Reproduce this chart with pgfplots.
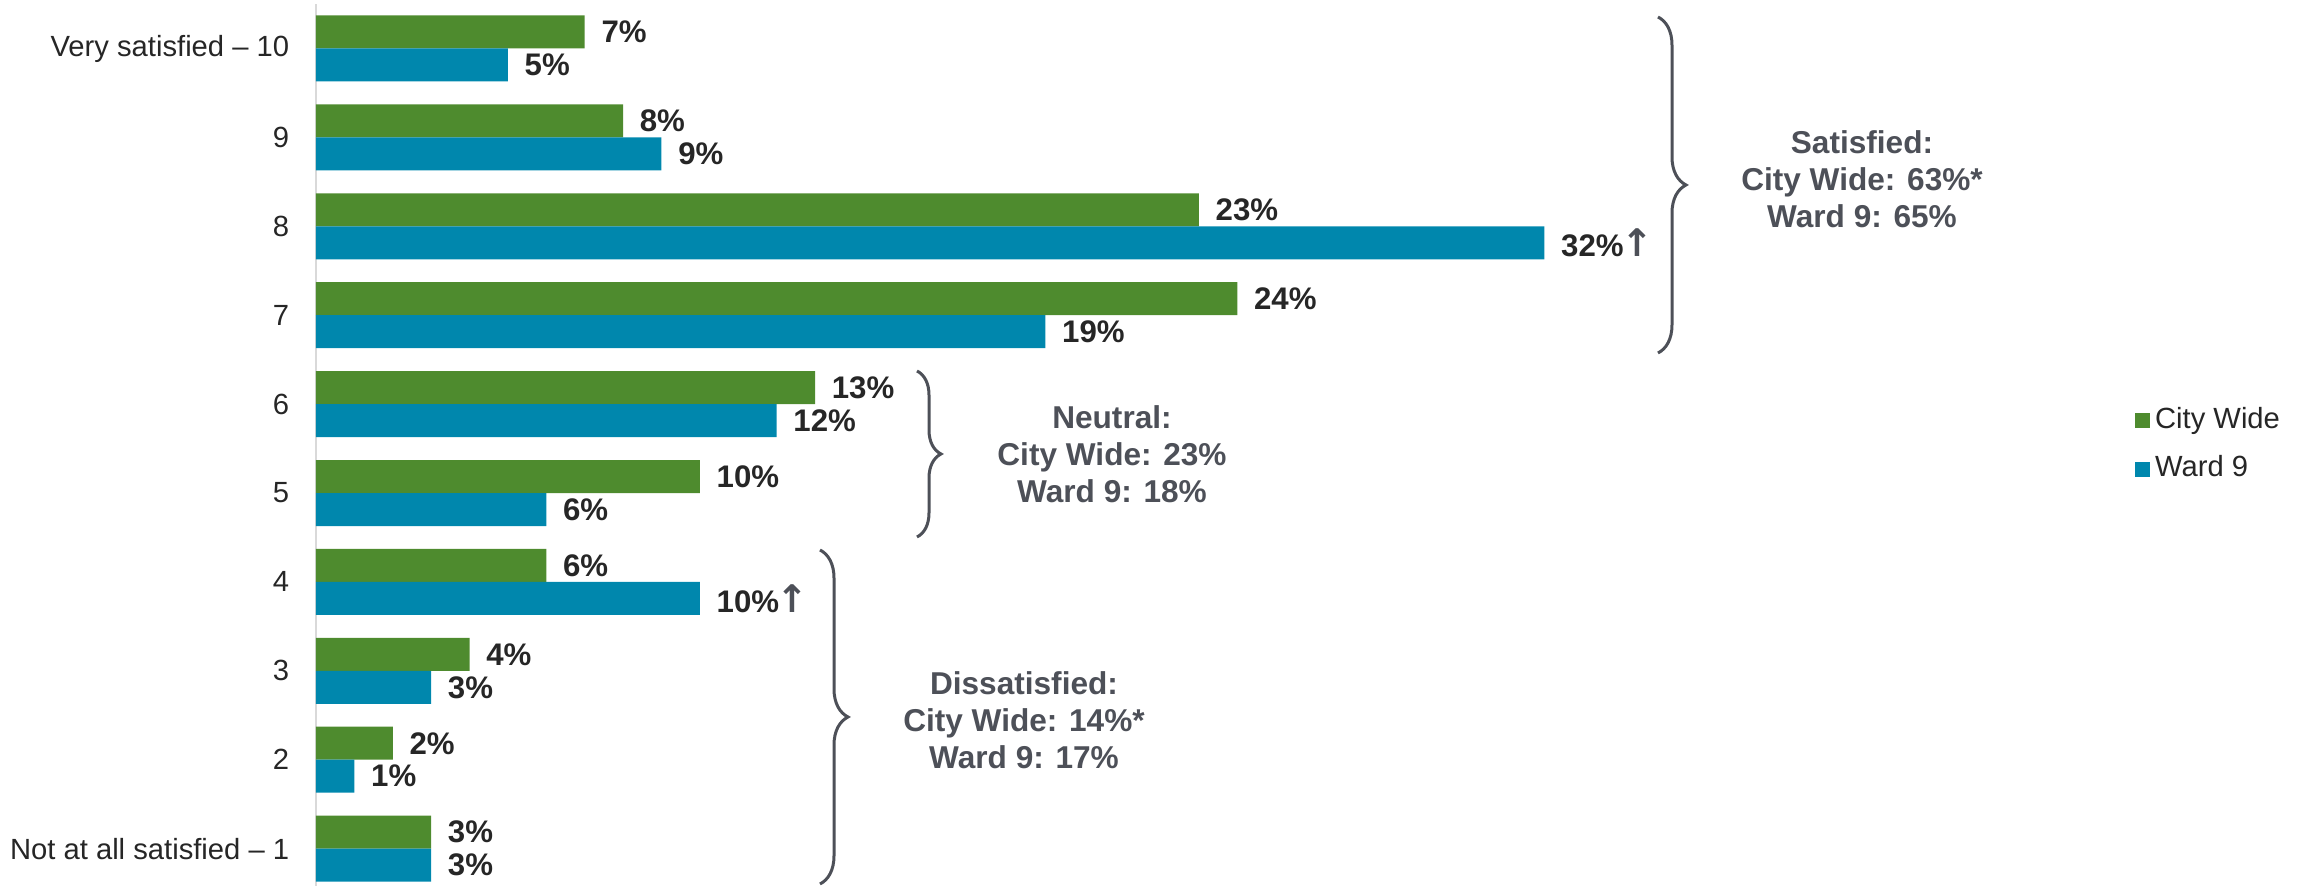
\documentclass[border=0pt]{standalone}
\usepackage{pgfplots}
\pgfplotsset{compat=1.18}
\usepackage{fontspec}
\setmainfont{Liberation Sans}
\newfontfamily\arrowfont{DejaVu Sans}
\usetikzlibrary{decorations.pathreplacing}
\definecolor{cwgreen}{HTML}{4E8B2E}
\definecolor{wblue}{HTML}{0087AD}
\definecolor{txt}{HTML}{262626}
\definecolor{annot}{HTML}{4D5058}
\newcommand{\upar}{\kern-0.6pt{\arrowfont\bfseries\fontsize{9.5}{9.5}\selectfont\color{annot}↑}}
\begin{document}
\begin{tikzpicture}
\begin{axis}[
  at={(0,0)}, anchor=south west,
  scale only axis, width=497.5pt, height=220.5pt,
  xbar, bar width=8.25pt,
  xmin=0, xmax=51.84, ymin=-0.5, ymax=9.42, y dir=reverse,
  axis x line=none, axis y line*=left,
  y axis line style={draw=black!15, line width=0.5pt},
  ytick={0,...,9},
  yticklabels={Very satisfied – 10, 9, 8, 7, 6, 5, 4, 3, 2, Not at all satisfied – 1},
  major tick length=0pt,
  yticklabel style={font=\fontsize{7.3}{8.8}\selectfont, text=txt, inner xsep=0pt, xshift=-6.5pt},
  point meta=explicit symbolic,
  nodes near coords,
  every node near coord/.append style={font=\fontsize{7.8}{9}\selectfont\bfseries, text=txt, anchor=west, inner xsep=4pt, inner ysep=0pt},
  legend style={draw=none, fill=none, at={(0.9138,0.5)}, anchor=west, inner sep=0pt,
    font=\fontsize{7.3}{8.8}\selectfont, text=txt, row sep=5.4pt,
    nodes={inner xsep=1.2pt, inner ysep=0pt}},
  legend cell align=left,
  legend image code/.code={\fill[#1] (0pt,-1.875pt) rectangle (3.75pt,1.875pt);},
  clip=false,
]
\addplot[fill=cwgreen, draw=none, bar shift=4.125pt] coordinates {
  (7,0) [7\%] (8,1) [8\%] (23,2) [23\%] (24,3) [24\%] (13,4) [13\%]
  (10,5) [10\%] (6,6) [6\%] (4,7) [4\%] (2,8) [2\%] (3,9) [3\%]
};
\addlegendentry{City Wide}
\addplot[fill=wblue, draw=none, bar shift=-4.125pt] coordinates {
  (5,0) [5\%] (9,1) [9\%] (32,2) [32\%\upar] (19,3) [19\%] (12,4) [12\%]
  (6,5) [6\%] (10,6) [10\%\upar] (3,7) [3\%] (1,8) [1\%] (3,9) [3\%]
};
\addlegendentry{Ward 9}
\end{axis}
\begin{scope}[shift={(-79pt,221.5pt)}, x=0.25pt, y=0.25pt]
  \draw[annot, line width=0.75pt, decorate, decoration={brace, amplitude=7pt}] (1658,-17) -- (1658,-353);
  \draw[annot, line width=0.75pt, decorate, decoration={brace, amplitude=6pt}] (917,-371) -- (917,-537);
  \draw[annot, line width=0.75pt, decorate, decoration={brace, amplitude=7pt}] (820,-550) -- (820,-884);
  \node[annot, font=\fontsize{7.9}{9.2}\selectfont\bfseries, align=center] at (1862,-179) {Satisfied:\\City Wide: 63\%*\\Ward 9: 65\%};
  \node[annot, font=\fontsize{7.9}{9.2}\selectfont\bfseries, align=center] at (1112,-454) {Neutral:\\City Wide: 23\%\\Ward 9: 18\%};
  \node[annot, font=\fontsize{7.9}{9.2}\selectfont\bfseries, align=center] at (1024,-720) {Dissatisfied:\\City Wide: 14\%*\\Ward 9: 17\%};
\end{scope}
\pgfresetboundingbox
\path (-79pt,0pt) rectangle (497.5pt,221.5pt);
\end{tikzpicture}
\end{document}
